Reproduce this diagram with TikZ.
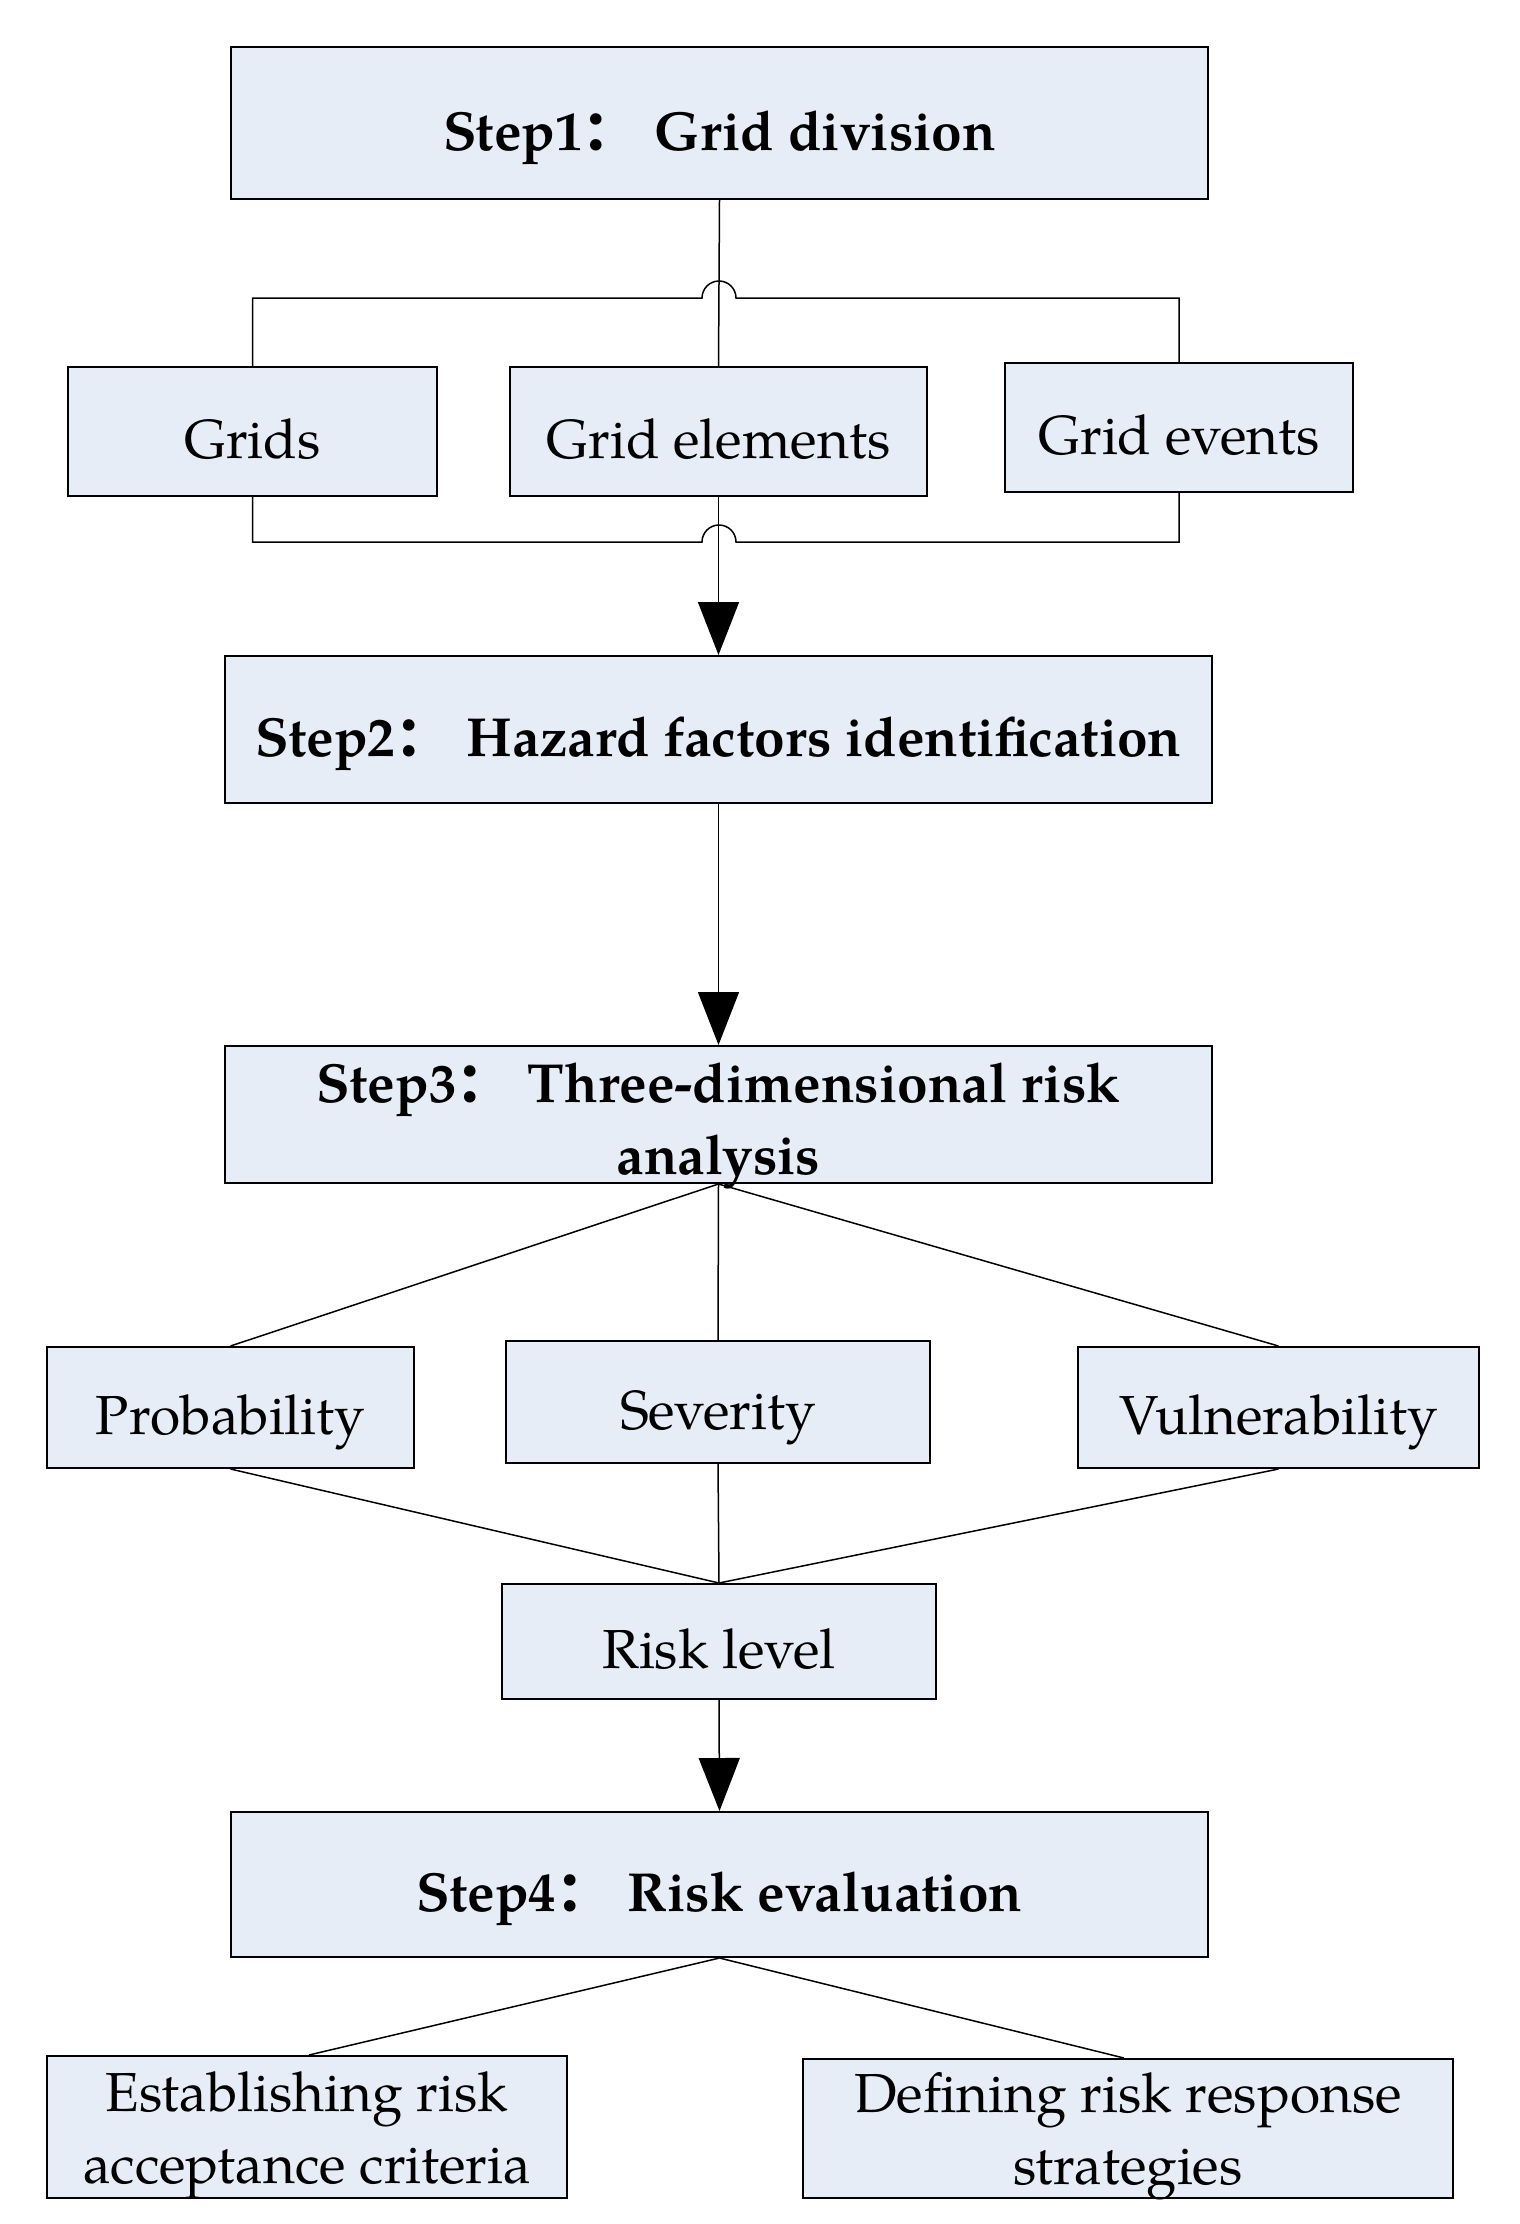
\documentclass[tikz,border=0pt]{standalone}
\usepackage{fontspec}
\setmainfont{TeX Gyre Pagella}
\newfontfamily\cjk{Noto Sans CJK SC}
\usetikzlibrary{arrows.meta}
\definecolor{boxfill}{RGB}{231,237,247}
\newcommand{\fc}{{\cjk ：}\hspace{0.3em}}
\tikzset{
  bx/.style={draw=black, line width=2pt, fill=boxfill, inner sep=0pt, align=center,
    font=\fontsize{55}{72}\selectfont, text height=74pt, text depth=20pt},
  mbx/.style={bx, text height=, text depth=},
  stp/.style={bx, font=\fontsize{55}{72}\selectfont\bfseries},
  txt/.style={align=center, inner sep=0pt, font=\fontsize{55}{72}\selectfont},
  ln/.style={line width=1.5pt},
  arr/.style={line width=1.5pt, -{Triangle[length=53pt,width=41pt]}}
}
\begin{document}
\begin{tikzpicture}[x=1pt,y=1pt]
\useasboundingbox (0,0) rectangle (1520,-2224);
% boxes
\node[stp, minimum width=977pt, minimum height=152pt] (s1) at (719.5,-123) {Step1\fc Grid division};
\node[bx, minimum width=369pt, minimum height=129pt] (grids) at (252.5,-431.5) {Grids};
\node[bx, minimum width=417pt, minimum height=129pt] (gel) at (718.5,-431.5) {Grid elements};
\node[bx, minimum width=348pt, minimum height=129pt] (gev) at (1179,-427.5) {Grid events};
\node[stp, minimum width=987pt, minimum height=147pt] (s2) at (718.5,-729.5) {Step2\fc Hazard factors identification};
\node[mbx, minimum width=987pt, minimum height=137pt] (s3) at (718.5,-1114.5) {};
\node[txt, font=\fontsize{55}{72}\selectfont\bfseries] (s3t) at ([yshift=-12pt]s3.center) {Step3\fc Three-dimensional risk\\analysis};
\node[bx, minimum width=367pt, minimum height=121pt] (prob) at (230.5,-1407.5) {Probability};
\node[bx, minimum width=424pt, minimum height=122pt] (sev) at (718,-1402) {Severity};
\node[bx, minimum width=401pt, minimum height=121pt] (vul) at (1278.5,-1407.5) {Vulnerability};
\node[bx, minimum width=434pt, minimum height=115pt] (rl) at (719,-1641.5) {Risk level};
\node[stp, minimum width=977pt, minimum height=145pt] (s4) at (719.5,-1884.5) {Step4\fc Risk evaluation};
\node[mbx, minimum width=520pt, minimum height=142pt] (est) at (307,-2127) {};
\node[txt] (estt) at ([yshift=-8pt]est.center) {Establishing risk\\acceptance criteria};
\node[mbx, minimum width=650pt, minimum height=139pt] (def) at (1128,-2128.5) {};
\node[txt] (deft) at ([yshift=-8pt]def.center) {Defining risk response\\strategies};
% step1 to grid level
\draw[ln] (s1.south) -- (gel.north);
\draw[ln] (grids.north) |- (702,-298) arc[start angle=180, end angle=0, radius=17pt] -| (gev.north);
\draw[ln] (grids.south) |- (702,-542) arc[start angle=180, end angle=0, radius=17pt] -| (gev.south);
\draw[arr] (gel.south) -- (s2.north);
\draw[arr] (s2.south) -- (s3.north);
% step3 to factors
\draw[ln] (s3.south) -- (prob.north);
\draw[ln] (s3.south) -- (sev.north);
\draw[ln] (s3.south) -- (vul.north);
\draw[ln] (prob.south) -- (rl.north);
\draw[ln] (sev.south) -- (rl.north);
\draw[ln] (vul.south) -- (rl.north);
\draw[arr] (rl.south) -- (s4.north);
% step4 to subitems
\draw[ln] (s4.south) -- ([xshift=2pt]est.north);
\draw[ln] (s4.south) -- ([xshift=-4pt]def.north);
\end{tikzpicture}
\end{document}
